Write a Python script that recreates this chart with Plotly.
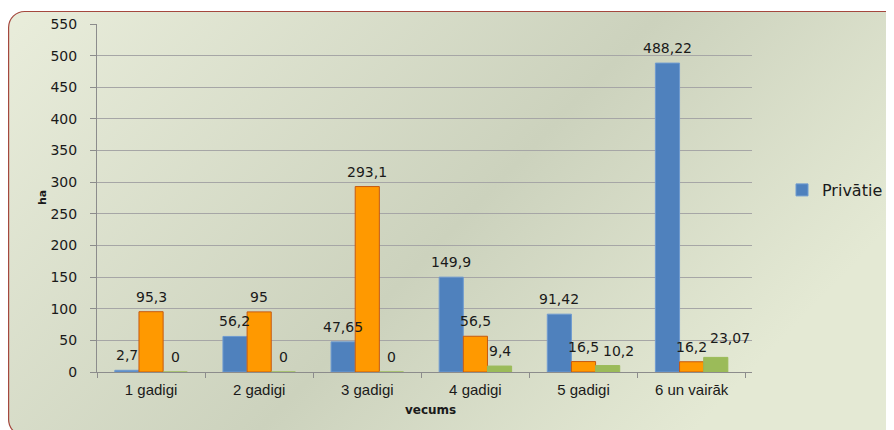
import base64
import plotly.graph_objects as go

categories = ["1 gadigi", "2 gadigi", "3 gadigi", "4 gadigi", "5 gadigi", "6 un vairāk"]
privatie = [2.7, 56.2, 47.65, 149.9, 91.42, 488.22]
series2 = [95.3, 95, 293.1, 56.5, 16.5, 16.2]
series3 = [0, 0, 0, 9.4, 10.2, 23.07]
y_ticks = list(range(0, 551, 50))
# sideways / upward nudges (px) of the third series' labels where neighbouring labels touch
series3_label_dx = [0, 0, 0, 0, 11, 14]
series3_label_dy = [0, 0, 0, 0, 0, 4]


def fmt(v):
    return ("%g" % v).replace(".", ",")


# the page body has an 8px margin; the figure fills the rest of the 894x430 window
OFF = 8
W, H = 894 - OFF, 430 - OFF
L, T = 97 - OFF, 24 - OFF
PR, PB = 752 - OFF, 372 - OFF
R, B = W - PR, H - PB
PW, PH = PR - L, PB - T
BARGAP = 0.33
N_SERIES = 3
BAR_PX = PW / len(categories) * (1 - BARGAP) / N_SERIES


def px(xp):
    return (xp - OFF - L) / PW


def py(yp):
    return (PB - (yp - OFF)) / PH


svg = f"""<svg xmlns='http://www.w3.org/2000/svg' width='{W}' height='{H}' viewBox='0 0 {W} {H}' preserveAspectRatio='none'>
<defs><linearGradient id='g' x1='0' y1='0' x2='1' y2='0.45'>
<stop offset='0' stop-color='#e9eddb'/>
<stop offset='0.6' stop-color='#ccd2bd'/>
<stop offset='1' stop-color='#e4e9d4'/>
</linearGradient></defs>
<rect x='0.6' y='3.5' width='{W + 20}' height='{H + 2}' rx='16' ry='16' fill='url(#g)' stroke='#a4483e' stroke-width='1.2'/>
</svg>"""
src = "data:image/svg+xml;base64," + base64.b64encode(svg.encode("utf-8")).decode("ascii")

label_font = dict(family="DejaVu Sans", size=14, color="#1a1a1a")

fig = go.Figure()
fig.add_trace(go.Bar(
    x=categories, y=privatie, name="Privātie",
    marker=dict(color="#4f81bd", line=dict(color="#6f9bd0", width=1)),
))
fig.add_trace(go.Bar(
    x=categories, y=series2, name="Valsts", showlegend=False,
    marker=dict(color="#ff9900", line=dict(color="#c55a11", width=1)),
))
fig.add_trace(go.Bar(
    x=categories, y=series3, name="Citas", showlegend=False,
    marker=dict(color="#9bbb59", line=dict(color="#9bbb59", width=1)),
))

# value labels, drawn above all bars (as in the reference)
annotations = []
all_series = [privatie, series2, series3]
for k, vals in enumerate(all_series):
    for i, (c, v) in enumerate(zip(categories, vals)):
        dx = series3_label_dx[i] if k == 2 else 0
        dy = series3_label_dy[i] if k == 2 else 0
        annotations.append(dict(
            x=c, y=v, xref="x", yref="y", text=fmt(v), showarrow=False,
            xanchor="center", yanchor="bottom",
            xshift=(k - (N_SERIES - 1) / 2) * BAR_PX + dx, yshift=5 + dy,
            font=label_font,
        ))

annotations += [
    dict(text="<b>ha</b>", xref="paper", yref="paper",
         x=px(42), y=py(198), xanchor="center", yanchor="middle",
         showarrow=False, textangle=-90,
         font=dict(family="DejaVu Sans", size=11, color="#1a1a1a")),
    dict(text="<b>vecums</b>", xref="paper", yref="paper",
         x=px(430), y=py(410), xanchor="center", yanchor="middle",
         showarrow=False,
         font=dict(family="DejaVu Sans", size=12, color="#1a1a1a")),
]

fig.update_layout(
    width=W, height=H,
    margin=dict(l=L, r=R, t=T, b=B, pad=0, autoexpand=False),
    paper_bgcolor="white",
    plot_bgcolor="white",
    barmode="group",
    bargap=BARGAP,
    bargroupgap=0,
    showlegend=True,
    legend=dict(
        x=px(782), y=py(190), xanchor="left", yanchor="middle",
        font=dict(family="DejaVu Sans", size=16, color="#1a1a1a"),
        bgcolor="rgba(0,0,0,0)",
    ),
    images=[dict(
        source=src, xref="paper", yref="paper",
        x=-L / PW, y=PB / PH, sizex=W / PW, sizey=H / PH,
        xanchor="left", yanchor="top", sizing="stretch", layer="below",
    )],
    xaxis=dict(
        showgrid=False, showline=True, linecolor="#8c8c8c", linewidth=1,
        ticks="outside", tickson="boundaries", ticklen=5, tickcolor="#8c8c8c",
        tickfont=dict(family="Liberation Sans", size=15, color="#1a1a1a"),
        ticklabelstandoff=4,
    ),
    yaxis=dict(
        range=[0, 550], tickvals=y_ticks, ticktext=[str(v) for v in y_ticks],
        showgrid=True, gridcolor="#a6a6a6", gridwidth=1,
        showline=True, linecolor="#8c8c8c", linewidth=1,
        ticks="outside", ticklen=6, tickcolor="#8c8c8c",
        tickfont=dict(family="DejaVu Sans", size=14, color="#1a1a1a"),
        ticklabelstandoff=10, zeroline=False,
    ),
    annotations=annotations,
)

fig.write_html("out.html")
